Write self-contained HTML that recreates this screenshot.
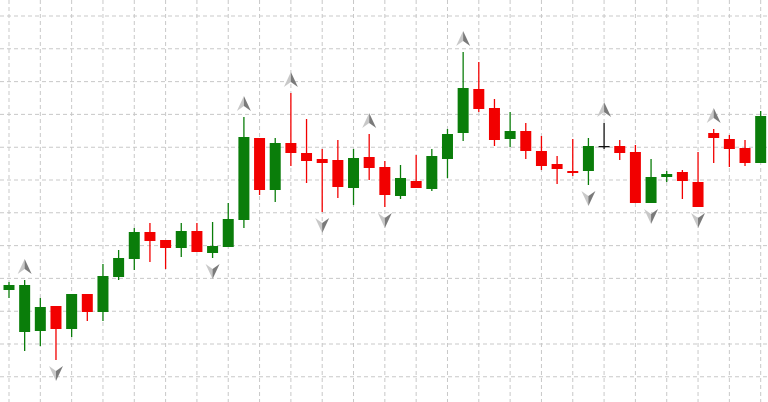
<!DOCTYPE html>
<html><head><meta charset="utf-8"><style>
html,body{margin:0;padding:0;background:#fff;}
svg{display:block;}
</style></head><body>
<svg id="chart" width="768" height="402" viewBox="0 0 768 402" xmlns="http://www.w3.org/2000/svg">
<g id="grid"></g>
<g id="candles"></g>
<g id="fractals"></g>
</svg>
<script>
// price values (higher = up)
const opens  = [110,68,69,94,71,106,88,123,141,168,160,152,169,147,153,180,262,210,257,247,241,240,212,243,233,204,219,211,241,267,311,292,261,269,249,236,229,229,254,254,248,197,223,228,218,267,261,252,237];
const closes = [115,115,93,71,106,88,124,142,168,159,152,169,148,154,181,263,210,257,247,239,237,213,242,232,205,222,212,244,266,312,291,260,269,249,234,231,227,254,254,247,197,223,226,219,193,262,251,237,284];
const highs  = [118,120,102,94,106,106,136,150,172,177,160,177,177,178,197,283,262,262,307,281,251,260,251,266,239,235,245,251,271,348,338,301,288,277,264,244,261,262,277,260,255,241,229,230,248,271,265,260,289];
const lows   = [102,49,54,40,63,79,79,120,130,138,131,143,148,142,153,172,205,198,234,217,188,202,195,220,193,201,212,209,222,259,288,254,253,241,230,216,224,215,251,240,197,197,218,201,193,237,233,234,237];
const upFractals   = [1,15,18,23,29,38,45];
const downFractals = [3,13,20,24,37,41,44];

const NS = 'http://www.w3.org/2000/svg';
const xScale = i => 9 + i * 15.66;
const yScale = v => 400 - v;

const grid = document.getElementById('grid');
for (let k = 0; k < 25; k++) {
  const x = 9 + k * 31.32;
  const l = document.createElementNS(NS, 'line');
  
  
  l.setAttribute('x1', x); l.setAttribute('x2', x);
  l.setAttribute('y1', 0); l.setAttribute('y2', 402);
  l.setAttribute('stroke', '#c8c8c8'); l.setAttribute('stroke-dasharray', '4,3');
  grid.appendChild(l);
}
for (let k = 0; k < 12; k++) {
  const y = 16 + k * 32.8;
  const l = document.createElementNS(NS, 'line');
  
  
  l.setAttribute('x1', 0); l.setAttribute('x2', 768);
  l.setAttribute('y1', y); l.setAttribute('y2', y);
  l.setAttribute('stroke', '#c8c8c8'); l.setAttribute('stroke-dasharray', '4,3');
  grid.appendChild(l);
}

const cg = document.getElementById('candles');
for (let i = 0; i < opens.length; i++) {
  const o = opens[i], c = closes[i];
  const x = xScale(i);
  const doji = Math.abs(o - c) < 1.5;
  const col = doji ? '#111' : (c > o ? '#0a7d0a' : '#f20000');
  const g = document.createElementNS(NS, 'g');
  
  
  const w = document.createElementNS(NS, 'line');
  
  
  w.setAttribute('x1', x); w.setAttribute('x2', x);
  w.setAttribute('y1', yScale(highs[i])); w.setAttribute('y2', yScale(lows[i]));
  w.setAttribute('stroke', col); w.setAttribute('stroke-width', 1.3);
  g.appendChild(w);
  const top = yScale(Math.max(o, c)), bot = yScale(Math.min(o, c));
  const r = document.createElementNS(NS, 'rect');
  
  
  r.setAttribute('x', x - 5.5); r.setAttribute('width', 11);
  r.setAttribute('y', top); r.setAttribute('height', Math.max(bot - top, 1.3));
  r.setAttribute('fill', col);
  g.appendChild(r);
  cg.appendChild(g);
}

const fg = document.getElementById('fractals');
function arrow(i, up) {
  const x = xScale(i);
  const y = up ? yScale(highs[i]) - 13 : yScale(lows[i]) + 13;
  const s = up ? 1 : -1;
  const g = document.createElementNS(NS, 'g');
  
  
  const left = document.createElementNS(NS, 'polygon');
  left.setAttribute('points', `${x},${y - 8*s} ${x - 7},${y + 7*s} ${x},${y + 2*s}`);
  left.setAttribute('fill', '#c8c8c8');
  const right = document.createElementNS(NS, 'polygon');
  right.setAttribute('points', `${x},${y - 8*s} ${x + 7},${y + 7*s} ${x},${y + 2*s}`);
  right.setAttribute('fill', '#7a7a7a');
  g.appendChild(left); g.appendChild(right);
  fg.appendChild(g);
}
upFractals.forEach(i => arrow(i, true));
downFractals.forEach(i => arrow(i, false));
</script>
</body></html>
